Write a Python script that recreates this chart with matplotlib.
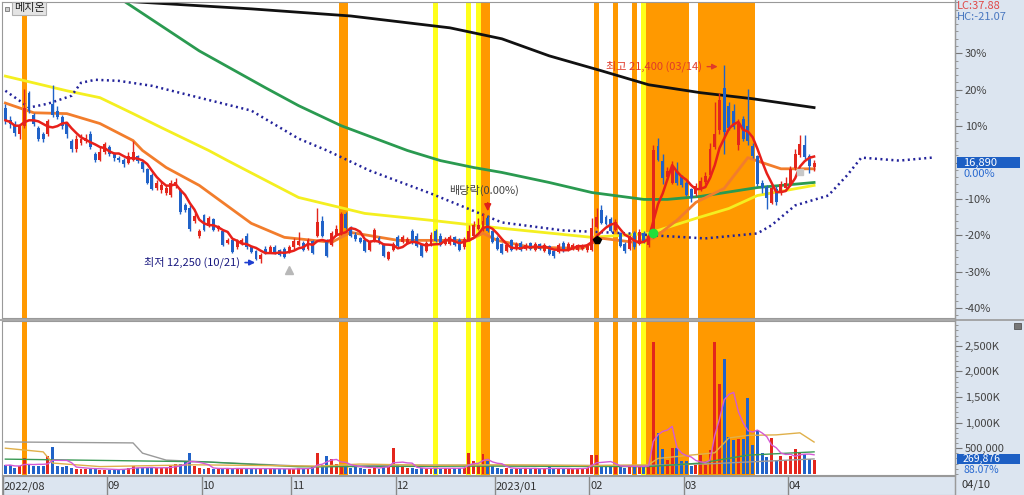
import matplotlib
matplotlib.use("Agg")
import matplotlib.pyplot as plt
import matplotlib.transforms as mtransforms
from matplotlib.patches import Rectangle
from matplotlib.lines import Line2D
import numpy as np
import pandas as pd

plt.rcParams['font.family'] = ['Noto Sans CJK KR', 'DejaVu Sans']

# ---------------- data ----------------
stock_name = "메지온"
ref_close = 16890
month_labels = ['2022/08', '09', '10', '11', '12', '2023/01', '02', '03', '04']
month_start = [0, 22, 42, 61, 83, 104, 124, 144, 166]
last_date_label = "04/10"

opens = [19400, 18850, 18700, 18200, 18600, 20100, 19100, 18500, 18200, 18200,
         19600, 19300, 19000, 18700, 17900, 17500, 17800, 17900, 18200, 17300,
         17000, 17400, 17600, 17300, 17100, 17000, 16850, 17000, 17200, 16900,
         16600, 16300, 15700, 15600, 15500, 15400, 15800, 15600, 14900, 14800,
         14200, 13500, 14450, 13950, 14250, 13800, 13700, 13150, 13300, 12950,
         13100, 13500, 12950, 12800, 12400, 12900, 12750, 12950, 12850, 12900,
         12750, 12950, 13050, 13150, 12900, 13250, 13500, 14200, 13250, 13050,
         13550, 13600, 14500, 13850, 13550, 13400, 13300, 12850, 13250, 13400,
         13100, 12400, 12850, 13450, 13200, 13150, 13700, 13500, 13050, 12800,
         13050, 13700, 13500, 13100, 13100, 13450, 13300, 12950, 13300, 13500,
         13800, 13750, 14300, 13700, 13400, 13100, 12800, 13300, 12900, 13150,
         12900, 13150, 12850, 13100, 12800, 13000, 12800, 12750, 13150, 12850,
         12900, 12850, 12900, 12850, 12850, 13900, 14700, 14350, 14250, 13750,
         13600, 13100, 12900, 13600, 13100, 13600, 13050, 13500, 17650, 16950,
         16200, 15950, 16500, 16200, 15950, 15650, 15450, 15650, 16000, 16300,
         17600, 18400, 20350, 19500, 19300, 17700, 18900, 18600, 17650, 17200,
         15950, 15750, 15000, 15650, 15500, 15700, 15850, 16650, 17250, 17700,
         17200, 16700]
highs = [19600, 19050, 18800, 18700, 20300, 20200, 19200, 18600, 18300, 18900,
         20500, 19500, 19100, 18750, 18000, 18150, 18200, 18200, 18350, 17400,
         17600, 17850, 17700, 17400, 17200, 17100, 17400, 17900, 17250, 16950,
         16650, 16400, 16100, 16000, 15850, 16100, 16150, 15700, 15000, 14900,
         14550, 13800, 14500, 14400, 14300, 14000, 13750, 13400, 13350, 13350,
         13400, 13600, 13000, 12850, 12700, 13000, 13050, 13050, 12900, 12950,
         13050, 13400, 13650, 13250, 13400, 13300, 14800, 14400, 13350, 13700,
         14000, 14600, 14600, 13950, 13650, 13450, 13350, 13300, 13850, 13500,
         13150, 12800, 13200, 13550, 13550, 13450, 13800, 13600, 13100, 13250,
         13650, 13800, 13600, 13450, 13550, 13500, 13400, 13450, 14000, 14200,
         14300, 14550, 14450, 13750, 13500, 13150, 13150, 13350, 13200, 13250,
         13150, 13200, 13200, 13150, 13150, 13050, 12850, 13150, 13250, 13200,
         13150, 13100, 13100, 13100, 14300, 14800, 14900, 14450, 14350, 14250,
         13650, 13200, 13550, 13700, 13800, 13700, 13600, 17700, 18050, 17300,
         16700, 16950, 16900, 16300, 16050, 15700, 15950, 16200, 16450, 17800,
         19700, 20100, 21400, 19700, 19600, 18900, 19050, 20300, 17800, 17250,
         16100, 15850, 15800, 15800, 16050, 16200, 16750, 17500, 18150, 18150,
         17300, 17000]
lows = [18700, 18500, 18100, 18000, 18500, 19200, 18600, 17900, 17850, 18100,
        19000, 18900, 18450, 18050, 17400, 17400, 17700, 17800, 17500, 16900,
        16950, 17300, 17200, 16950, 16900, 16700, 16800, 16950, 16850, 16450,
        15900, 15600, 15600, 15500, 15400, 15300, 15700, 14500, 14600, 13700,
        14100, 13400, 13700, 13900, 13700, 13700, 13000, 13100, 12700, 12900,
        13050, 12900, 12700, 12350, 12250, 12650, 12700, 12650, 12550, 12450,
        12700, 12900, 13000, 12800, 12850, 12650, 13450, 13450, 12500, 13000,
        13500, 13550, 13800, 13450, 13250, 13150, 12750, 12800, 13200, 13100,
        12500, 12350, 12800, 12950, 13150, 13100, 13100, 12950, 12500, 12750,
        13000, 13200, 13000, 13050, 13050, 13000, 12800, 12900, 13250, 13450,
        13750, 13700, 13650, 13150, 12850, 12650, 12750, 12800, 12850, 12800,
        12850, 12850, 12800, 12850, 12750, 12600, 12450, 12700, 12750, 12800,
        12850, 12800, 12850, 12750, 12800, 13850, 14050, 14000, 13650, 13700,
        12950, 12700, 12850, 12900, 13050, 13150, 12950, 13400, 16950, 15900,
        16100, 15900, 15850, 15750, 15350, 15050, 15350, 15550, 15900, 16200,
        17500, 18200, 17300, 18400, 18450, 17450, 17900, 17700, 17100, 15800,
        15500, 14750, 14950, 14900, 15400, 15600, 15800, 16550, 17150, 17050,
        16400, 16500]
closes = [18850, 18700, 18250, 18600, 19400, 19300, 18700, 18000, 18000, 18800,
          19100, 19000, 18600, 18200, 17500, 18000, 18000, 18050, 17600, 17000,
          17400, 17750, 17300, 17100, 17000, 16800, 17200, 17400, 16950, 16600,
          15950, 15650, 15950, 15850, 15700, 15950, 16000, 14600, 14700, 13800,
          14400, 13700, 13750, 14300, 13750, 13950, 13050, 13300, 12750, 13250,
          13300, 12950, 12750, 12400, 12600, 12750, 12950, 12700, 12600, 12500,
          12950, 13250, 13250, 12850, 13300, 12700, 14150, 13500, 12550, 13600,
          13800, 14500, 13850, 13500, 13350, 13200, 12800, 13200, 13750, 13150,
          12550, 12750, 13100, 13000, 13450, 13350, 13150, 13000, 12550, 13150,
          13550, 13250, 13050, 13350, 13450, 13050, 12850, 13350, 13700, 14000,
          14000, 14200, 13700, 13200, 12900, 12700, 13050, 12850, 13100, 12850,
          13050, 12900, 13100, 12900, 13050, 12650, 12550, 13050, 12800, 13100,
          13050, 13050, 13050, 13000, 13850, 14350, 14100, 14050, 13700, 14150,
          13000, 12800, 13450, 12950, 13650, 13200, 13500, 17450, 17000, 16150,
          16500, 16750, 15950, 15850, 15400, 15250, 15800, 16050, 16250, 17500,
          18200, 19800, 18300, 18500, 18550, 18700, 18000, 17900, 17200, 15900,
          15700, 15250, 15700, 15050, 15900, 15950, 16600, 17300, 17750, 17150,
          16750, 16890]
volumes = [165000, 175000, 120000, 145000, 300000, 175000, 160000, 145000, 145000, 345000,
           525000, 150000, 140000, 145000, 120000, 100000, 100000, 100000, 105000, 105000,
           80000, 80000, 80000, 80000, 90000, 100000, 120000, 150000, 120000, 105000,
           120000, 120000, 115000, 120000, 115000, 145000, 190000, 200000, 250000, 400000,
           145000, 120000, 90000, 120000, 90000, 100000, 110000, 100000, 95000, 110000,
           95000, 100000, 105000, 95000, 110000, 90000, 100000, 95000, 95000, 100000,
           85000, 95000, 110000, 100000, 120000, 130000, 400000, 180000, 340000, 290000,
           190000, 150000, 150000, 120000, 170000, 120000, 100000, 100000, 150000, 90000,
           200000, 130000, 500000, 180000, 130000, 120000, 110000, 100000, 110000, 100000,
           120000, 110000, 100000, 110000, 100000, 120000, 110000, 120000, 400000, 240000,
           150000, 380000, 240000, 150000, 110000, 100000, 110000, 100000, 120000, 100000,
           110000, 90000, 110000, 90000, 100000, 130000, 90000, 100000, 90000, 110000,
           100000, 100000, 110000, 120000, 370000, 370000, 140000, 150000, 160000, 180000,
           130000, 120000, 150000, 150000, 160000, 140000, 150000, 2570000, 790000, 490000,
           270000, 510000, 510000, 240000, 240000, 145000, 165000, 370000, 180000, 470000,
           2570000, 1760000, 2250000, 710000, 660000, 680000, 680000, 1490000, 560000, 860000,
           400000, 320000, 690000, 270000, 340000, 270000, 340000, 480000, 430000, 390000,
           285000, 269876]

# moving-average lines (bar index, value)
ma20_idx = [0, 6, 13, 20, 27, 29, 34, 41, 52, 59, 69, 73, 83, 98, 101, 104, 111, 122,
            126, 133, 137, 142, 146, 152, 157, 160, 164, 171]
ma20_val = [19650, 19200, 19160, 18700, 17910, 17450, 16660, 15830, 14070, 13420, 13190,
            13650, 13280, 13280, 13610, 13280, 12960, 12910, 13380, 13190, 13370, 14210,
            15040, 15690, 17120, 16890, 16600, 16600]
ma60_idx = [0, 13, 20, 27, 33, 43, 47, 62, 76, 90, 105, 124, 136, 146, 153, 159, 171]
ma60_val = [20900, 20220, 19900, 19160, 18510, 17450, 16980, 15270, 14530, 14210, 13840,
            13420, 13600, 14300, 14760, 15360, 15830]
ma120_idx = [20, 25, 41, 55, 62, 71, 85, 92, 99, 105, 115, 124, 135, 140, 147, 159, 171]
ma120_val = [24900, 24390, 22070, 20360, 19530, 18600, 17450, 16980, 16660, 16430, 15965,
             15500, 15180, 15180, 15320, 15730, 15965]
ma240_idx = [18, 24, 52, 73, 94, 105, 115, 126, 136, 147, 158, 171]
ma240_val = [24550, 24390, 24020, 23690, 23140, 22630, 21840, 21150, 20500, 20130, 19850,
             19440]
lead_idx = [0, 3, 5, 9, 14, 16, 19, 24, 31, 41, 52, 62, 68, 77, 90, 105, 118, 132, 137,
            148, 159, 162, 167, 174, 178, 181, 189, 196]
lead_val = [20220, 19760, 19440, 19620, 19990, 20590, 20730, 20680, 20450, 19900, 19300,
            18000, 17450, 16520, 15450, 14110, 13740, 13600, 13510, 13370, 13600, 13980,
            14900, 15360, 16300, 17120, 16980, 17120]

vma20_idx = [0, 8, 10, 20, 40, 50, 66, 75, 90, 105, 124, 136, 138, 145, 150, 153, 157,
             163, 168, 171]
vma20_val = [500000, 428000, 209000, 140000, 175000, 165000, 150000, 190000, 165000,
             175000, 160000, 175000, 300000, 365000, 410000, 700000, 750000, 760000,
             800000, 620000]
vma60_idx = [0, 42, 62, 100, 136, 147, 157, 171]
vma60_val = [286000, 234000, 137000, 150000, 140000, 209000, 364000, 428000]
vma120_idx = [0, 27, 29, 34, 48, 66, 83, 110, 135, 150, 171]
vma120_val = [622000, 603000, 403000, 267000, 209000, 137000, 170000, 165000, 160000,
              200000, 290000]

orange_band_bars = [4, 71, 72, 101, 102, 125, 129, 133, 136, 137, 138, 139, 140, 141,
                    142, 143, 144, 147, 148, 149, 150, 151, 152, 153, 154, 155, 156,
                    157, 158]
yellow_band_bars = [91, 98, 100, 135]

high_idx, high_val, high_label = 152, 21400, "최고 21,400 (03/14)"
low_idx, low_val, low_label = 54, 12250, "최저 12,250 (10/21)"
div_idx, div_label = 102, "배당락(0.00%)"
lc_label, hc_label = "LC:37.88", "HC:-21.07"
last_vol_label, vol_pct_label = "269,876", "88.07%"
price_pct_label = "0.00%"

# ---------------- figure ----------------
W, H = 1024, 495
fig = plt.figure(figsize=(W / 100, H / 100), dpi=100, facecolor='white')


def box(x0, y0, x1, y1):
    return [x0 / W, 1 - y1 / H, (x1 - x0) / W, (y1 - y0) / H]


panel_bg = '#dce5f0'
side = fig.add_axes(box(955, 0, 1024, 495))
side.set_facecolor(panel_bg)
side.set_xticks([]); side.set_yticks([])
for s in side.spines.values():
    s.set_visible(False)

x = np.arange(len(closes))
O = np.array(opens, float); C = np.array(closes, float)
Hh = np.array(highs, float); L = np.array(lows, float)
V = np.array(volumes, float)
up = C >= O
RED, BLUE = '#e3261c', '#2062c8'
cols = np.where(up, RED, BLUE)
XLIM = (-0.71, 200.8)

ax = fig.add_axes(box(2, 2, 955, 318))
axv = fig.add_axes(box(2, 321, 955, 475))
strip = fig.add_axes(box(2, 476, 955, 495))


def runs(bars):
    bars = sorted(bars)
    out = []
    s = p = bars[0]
    for b in bars[1:]:
        if b == p + 1:
            p = b
        else:
            out.append((s, p)); s = p = b
    out.append((s, p))
    return out


for a in (ax, axv):
    for s, e in runs(orange_band_bars):
        a.axvspan(s - 0.5, e + 0.5, color='#ff9900', lw=0, zorder=0.5)
    for s, e in runs(yellow_band_bars):
        a.axvspan(s - 0.5, e + 0.5, color='#ffff1a', lw=0, zorder=0.5)

# price panel
pct_top, pct_bot = 44.1, -42.7
ax.set_xlim(*XLIM)
ax.set_ylim(ref_close * (1 + pct_bot / 100), ref_close * (1 + pct_top / 100))

ax.plot(ma240_idx, ma240_val, color='#111111', lw=2, zorder=2)
ax.plot(ma120_idx, ma120_val, color='#2a9a50', lw=2, zorder=2)
ax.plot(ma60_idx, ma60_val, color='#f4ef20', lw=2, zorder=2)
ax.plot(ma20_idx, ma20_val, color='#f27d2c', lw=2, zorder=2)
ax.plot(lead_idx, lead_val, color='#23239a', lw=1.8, ls=(0, (0.8, 1.4)), zorder=2)

ax.vlines(x, L, Hh, colors=cols, lw=1, zorder=3)
body = np.maximum(np.abs(C - O), 25)
ax.bar(x, body, bottom=np.minimum(O, C), width=0.62, color=cols, lw=0, zorder=4)

ma5 = pd.Series(C).rolling(5, min_periods=1).mean()
ax.plot(x, ma5, color='#e8201a', lw=1.8, zorder=5)

# markers
ax.plot([125], [13280], marker='p', color='black', ms=6, zorder=6)
ax.plot([137], [13600], marker='o', color='#22e03a', ms=6, zorder=6)
ax.plot([60], [11900], marker='^', color='#b8b8b8', ms=6, zorder=6)
ax.plot([168], [16430], marker='s', color='#c8c8c8', ms=4, zorder=6)

# annotations
ax.text(high_idx - 4.6, high_val - 60, high_label, color='#e03a2a', fontsize=8,
        ha='right', va='center', zorder=7)
ax.annotate('', xy=(high_idx - 0.8, high_val - 60), xytext=(high_idx - 4.2, high_val - 60),
            arrowprops=dict(arrowstyle='-|>', color='#e03a2a', lw=1, mutation_scale=8),
            zorder=7)
ax.text(low_idx - 4.3, low_val, low_label, color='#1a1a80', fontsize=8,
        ha='right', va='center', zorder=7)
ax.annotate('', xy=(low_idx - 0.6, low_val), xytext=(low_idx - 3.9, low_val),
            arrowprops=dict(arrowstyle='-|>', color='#1f3fd0', lw=1.2, mutation_scale=8),
            zorder=7)
ax.text(div_idx - 0.8, 15600, div_label, color='#444444', fontsize=8,
        ha='center', va='center', zorder=7)
ax.annotate('', xy=(div_idx, Hh[div_idx] + 50), xytext=(div_idx, 15150),
            arrowprops=dict(arrowstyle='-|>', color='#e0201a', lw=1.2, mutation_scale=10),
            zorder=7)

ax.set_xticks([])
ax.yaxis.tick_right()
major_p = list(range(-40, 31, 10))
ax.set_yticks([ref_close * (1 + p / 100) for p in major_p])
ax.set_yticklabels(['' if p == 0 else f'{p}%' for p in major_p])
ax.set_yticks([ref_close * (1 + p / 100) for p in range(-42, 45, 2)], minor=True)
ax.tick_params(axis='y', which='major', length=5, color='#777777', labelsize=8,
               labelcolor='#444444', pad=2)
ax.tick_params(axis='y', which='minor', length=2.5, color='#888888')
for s in ax.spines.values():
    s.set_color('#999999')

# volume panel
axv.set_xlim(*XLIM)
axv.set_ylim(-24000, 2985000)
vcols = cols
axv.bar(x, V, width=0.62, color=vcols, lw=0, zorder=2)
axv.plot(vma120_idx, vma120_val, color='#9a9a9a', lw=1, zorder=3)
axv.plot(vma60_idx, vma60_val, color='#3a9a55', lw=1, zorder=3)
axv.plot(vma20_idx, vma20_val, color='#e0b04a', lw=1, zorder=3)
vma5 = pd.Series(V).rolling(5, min_periods=1).mean()
axv.plot(x, vma5, color='#d45ad4', lw=1, zorder=3)
axv.set_xticks([])
axv.yaxis.tick_right()
vt = [500000, 1000000, 1500000, 2000000, 2500000]
axv.set_yticks(vt)
axv.set_yticklabels(['500,000', '1,000K', '1,500K', '2,000K', '2,500K'])
axv.set_yticks(np.arange(0, 2950001, 100000), minor=True)
axv.tick_params(axis='y', which='major', length=5, color='#777777', labelsize=8,
                labelcolor='#444444', pad=2)
axv.tick_params(axis='y', which='minor', length=2.5, color='#888888')
for s in axv.spines.values():
    s.set_color('#999999')

# date strip
strip.set_facecolor(panel_bg)
strip.set_xlim(*XLIM); strip.set_ylim(0, 1)
strip.set_xticks([]); strip.set_yticks([])
for s in strip.spines.values():
    s.set_color('#999999')
for b, lab in zip(month_start, month_labels):
    strip.axvline(b - 0.5, color='#8a8a8a', lw=1)
    strip.text(b - 0.35, 0.45, lab, fontsize=8, color='#333333', va='center', ha='left')

# side labels
fig.text(962 / W, 1 - 485 / H, last_date_label, fontsize=8, color='#333333', va='center')
fig.text(957 / W, 1 - 6 / H, lc_label, fontsize=8, color='#e04848', va='center')
fig.text(957 / W, 1 - 17 / H, hc_label, fontsize=8, color='#4a78c0', va='center')

tr = mtransforms.blended_transform_factory(fig.transFigure, ax.transData)
ylo, yhi = ax.get_ylim()
px_val = (yhi - ylo) / 316.0
fig.patches.append(Rectangle((957 / W, ref_close - 5.5 * px_val), 63 / W, 11 * px_val,
                             transform=tr, facecolor='#1d5fc4', edgecolor='none', zorder=5))
fig.text(963 / W, ref_close, f'{ref_close:,}', transform=tr, fontsize=8, color='white',
         va='center', zorder=6)
fig.text(963 / W, ref_close - 11 * px_val, price_pct_label, transform=tr, fontsize=8,
         color='#2a6ad0', va='center', zorder=6)

fig.patches.append(Rectangle((957 / W, 1 - 464 / H), 63 / W, 10 / H, transform=fig.transFigure,
                             facecolor='#1d5fc4', edgecolor='none', zorder=5))
fig.text(963 / W, 1 - 459 / H, last_vol_label, fontsize=7.5, color='white', va='center', zorder=6)
fig.text(963 / W, 1 - 470 / H, vol_pct_label, fontsize=7.5, color='#2a6ad0', va='center', zorder=6)

# name tag
fig.text(14 / W, 1 - 8.5 / H, stock_name, fontsize=8, color='#222222', va='center',
         bbox=dict(boxstyle='square,pad=0.15', fc='#e4e4e4', ec='#b0b0b0', lw=0.8), zorder=6)
fig.patches.append(Rectangle((5 / W, 1 - 11 / H), 4 / W, 4 / H, transform=fig.transFigure,
                             facecolor='#cccccc', edgecolor='#777777', lw=0.6, zorder=6))
fig.patches.append(Rectangle((1014 / W, 1 - 329 / H), 7 / W, 6 / H, transform=fig.transFigure,
                             facecolor='#777777', edgecolor='#555555', lw=0.6, zorder=6))

# separators
fig.add_artist(Line2D([0, 1], [1 - 319.5 / H, 1 - 319.5 / H], transform=fig.transFigure,
                      color='#9a9a9a', lw=1.2))
fig.add_artist(Line2D([955 / W, 955 / W], [0, 1], transform=fig.transFigure,
                      color='#9a9a9a', lw=1))

fig.savefig('out.png', dpi=100, facecolor='white')
